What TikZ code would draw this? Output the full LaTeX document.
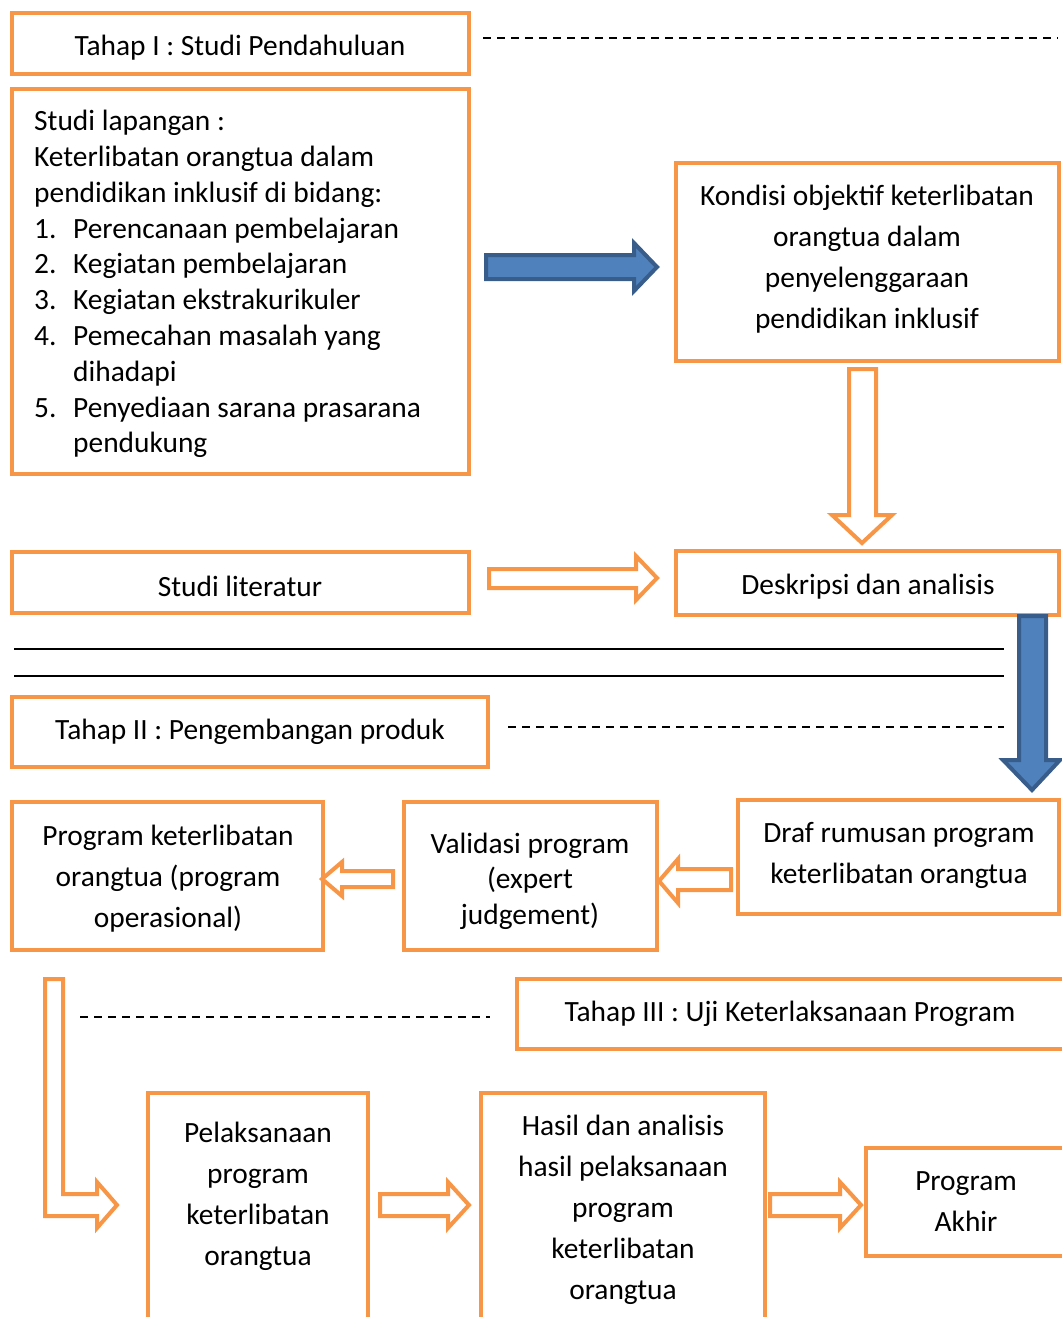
\documentclass[tikz,border=0pt]{standalone}
\usepackage{fontspec}
\setmainfont{Carlito}
\definecolor{org}{HTML}{F79646}
\definecolor{blu}{HTML}{4F81BD}
\definecolor{bluD}{HTML}{385D8A}
\begin{document}
\begin{tikzpicture}[x=1pt,y=-1pt,
  box/.style={draw=org,line width=4pt,inner sep=0pt,outer sep=0pt},
  txt/.style={inner sep=0pt,align=center,font=\fontsize{29.4}{41}\selectfont},
  barr/.style={fill=blu,draw=bluD,line width=4pt,line join=miter},
  oarr/.style={fill=white,draw=org,line width=4pt,line join=miter},
  dsh/.style={draw=black,line width=1.6pt,dash pattern=on 8pt off 6pt},
  sol/.style={draw=black,line width=2pt}]
\useasboundingbox (0,0) rectangle (1062,1317);
\clip (0,0) rectangle (1062,1317);
% boxes
\node[box,minimum width=457,minimum height=61] (t1) at (240.5,43.5) {};
\node[box,minimum width=457,minimum height=385] (sl) at (240.5,281.5) {};
\node[box,minimum width=383,minimum height=198] (ko) at (867.5,262) {};
\node[box,minimum width=457,minimum height=61] (lit) at (240.5,582.5) {};
\node[box,minimum width=383,minimum height=64] (de) at (867.5,583) {};
\node[box,minimum width=476,minimum height=70] (t2) at (250,732) {};
\node[box,minimum width=311,minimum height=148] (po) at (167.5,876) {};
\node[box,minimum width=253,minimum height=148] (va) at (530.5,876) {};
\node[box,minimum width=321,minimum height=114] (dr) at (898.5,857) {};
\node[box,minimum width=560,minimum height=70] (t3) at (797,1014) {};
\node[box,minimum width=220,minimum height=300] (pe) at (258,1243) {};
\node[box,minimum width=284,minimum height=300] (ha) at (623,1243) {};
\node[box,minimum width=220,minimum height=108] (ak) at (976,1202) {};
% texts
\node[txt] (t1t) at (240,47.5) {Tahap I : Studi Pendahuluan};
\node[txt,anchor=north west,align=left,font=\fontsize{29.4}{35.8}\selectfont] (slt) at (34,110) {%
Studi lapangan :\\
Keterlibatan orangtua dalam\\
pendidikan inklusif di bidang:\\
\makebox[39pt][l]{1.}Perencanaan pembelajaran\\
\makebox[39pt][l]{2.}Kegiatan pembelajaran\\
\makebox[39pt][l]{3.}Kegiatan ekstrakurikuler\\
\makebox[39pt][l]{4.}Pemecahan masalah yang\\
\hspace*{39pt}dihadapi\\
\makebox[39pt][l]{5.}Penyediaan sarana prasarana\\
\hspace*{39pt}pendukung};
\node[txt] (kot) at (867,259) {Kondisi objektif keterlibatan\\orangtua dalam\\penyelenggaraan\\pendidikan inklusif};
\node[txt] (litt) at (240,586) {Studi literatur};
\node[txt] (det) at (868,587) {Deskripsi dan analisis};
\node[txt] (t2t) at (250,732) {Tahap II : Pengembangan produk};
\node[txt] (pot) at (168,879) {Program keterlibatan\\orangtua (program\\operasional)};
\node[txt,font=\fontsize{29.4}{35.5}\selectfont] (vat) at (530,881) {Validasi program\\(expert\\judgement)};
\node[txt] (drt) at (899,855) {Draf rumusan program\\keterlibatan orangtua};
\node[txt] (t3t) at (790,1014) {Tahap III : Uji Keterlaksanaan Program};
\node[txt] (pet) at (258,1196) {Pelaksanaan\\program\\keterlibatan\\orangtua};
\node[txt] (hat) at (623,1210) {Hasil dan analisis\\hasil pelaksanaan\\program\\keterlibatan\\orangtua};
\node[txt] (akt) at (966,1202) {Program\\Akhir};
% lines
\draw[dsh] (483,38) -- (1058,38);
\draw[dsh] (508,727) -- (1004,727);
\draw[dsh] (80,1017) -- (490,1017);
\draw[sol] (14,649) -- (1004,649);
\draw[sol] (14,676) -- (1004,676);
% blue arrows
\draw[barr] (486,255) -- (634,255) -- (634,243) -- (657,267) -- (634,291) -- (634,279) -- (486,279) -- cycle;
\draw[barr] (1019,616) -- (1046,616) -- (1046,760) -- (1060,760) -- (1032,790) -- (1003,760) -- (1019,760) -- cycle;
% orange hollow arrows
\draw[oarr] (849,369) -- (876,369) -- (876,515) -- (892,515) -- (862,543) -- (832,515) -- (849,515) -- cycle;
\draw[oarr] (489,569) -- (636,569) -- (636,556) -- (657,578) -- (636,600) -- (636,588) -- (489,588) -- cycle;
\draw[oarr] (393,871) -- (342,871) -- (342,862) -- (322,879) -- (342,896) -- (342,887) -- (393,887) -- cycle;
\draw[oarr] (731,869) -- (678,869) -- (678,859) -- (659,881) -- (678,903) -- (678,890) -- (731,890) -- cycle;
\draw[oarr] (45,979) -- (63,979) -- (63,1194) -- (97,1194) -- (97,1182) -- (117,1205) -- (97,1228) -- (97,1216) -- (45,1216) -- cycle;
\draw[oarr] (380,1194) -- (448,1194) -- (448,1182) -- (469,1205) -- (448,1228) -- (448,1216) -- (380,1216) -- cycle;
\draw[oarr] (770,1194) -- (840,1194) -- (840,1182) -- (861,1205) -- (840,1228) -- (840,1216) -- (770,1216) -- cycle;
\end{tikzpicture}
\end{document}
